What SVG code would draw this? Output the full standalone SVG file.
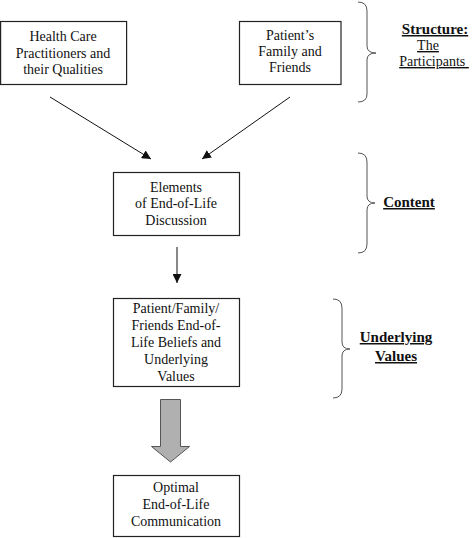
<svg xmlns="http://www.w3.org/2000/svg" width="472" height="538" viewBox="0 0 472 538">
<defs>
<style>
.box{fill:#fff;stroke:#222;stroke-width:1.2}
.t{font-family:"Liberation Serif","Times New Roman",serif;font-size:14px;fill:#111;text-anchor:middle}
.lab{font-family:"Liberation Serif","Times New Roman",serif;font-size:15px;font-weight:bold;fill:#111;text-anchor:middle;text-decoration:underline}
.sub{font-family:"Liberation Serif","Times New Roman",serif;font-size:14px;fill:#111;text-anchor:middle;text-decoration:underline}
.brace{fill:none;stroke:#555;stroke-width:1}
.conn{stroke:#111;stroke-width:1;fill:none}
</style>
<marker id="ah" viewBox="0 0 10 10" refX="10" refY="5" markerWidth="9" markerHeight="9" markerUnits="userSpaceOnUse" orient="auto">
<path d="M0,0 L10,5 L0,10 z" fill="#111"/>
</marker>
</defs>
<rect width="472" height="538" fill="#fff"/>
<g id="node-hcp">
<rect class="box" x="0.6" y="21.5" width="126" height="63"/>
<text class="t" x="63" y="41">Health Care</text>
<text class="t" x="63" y="58">Practitioners and</text>
<text class="t" x="63" y="74">their Qualities</text>
</g>
<g id="node-family">
<rect class="box" x="239.5" y="21.5" width="101.5" height="63"/>
<text class="t" x="290" y="40">Patient’s</text>
<text class="t" x="290" y="56">Family and</text>
<text class="t" x="290" y="72">Friends</text>
</g>
<g id="node-elements">
<rect class="box" x="113.5" y="172.5" width="126" height="63"/>
<text class="t" x="176" y="192">Elements</text>
<text class="t" x="176" y="208">of End-of-Life</text>
<text class="t" x="176" y="225">Discussion</text>
</g>
<g id="node-beliefs">
<rect class="box" x="113.5" y="298.5" width="126" height="88"/>
<text class="t" x="176" y="313">Patient/Family/</text>
<text class="t" x="176" y="330">Friends End-of-</text>
<text class="t" x="176" y="347">Life Beliefs and</text>
<text class="t" x="176" y="364">Underlying</text>
<text class="t" x="176" y="381">Values</text>
</g>
<g id="node-optimal">
<rect class="box" x="113.5" y="475.5" width="126" height="61"/>
<text class="t" x="176" y="492">Optimal</text>
<text class="t" x="176" y="509">End-of-Life</text>
<text class="t" x="176" y="526">Communication</text>
</g>
<g id="connectors">
<line class="conn" x1="50" y1="97" x2="151" y2="159" marker-end="url(#ah)"/>
<line class="conn" x1="290" y1="97" x2="202" y2="159" marker-end="url(#ah)"/>
<line class="conn" x1="177" y1="247" x2="177" y2="283" marker-end="url(#ah)"/>
<path d="M160.5,399.5 H180.5 V446.5 H189.5 L170.5,462 L151.5,446.5 H160.5 Z" fill="#b0b0b0" stroke="#555" stroke-width="1"/>
</g>
<g id="brace-structure">
<path class="brace" d="M358,2 Q367,2 367,11 V46 Q367,53 376,53 Q367,53 367,60 V94 Q367,102 358,102"/>
<text class="lab" x="435" y="34">Structure:</text>
<text class="sub" x="428" y="50">The</text>
<text class="sub" x="434" y="66" xml:space="preserve">Participants </text>
</g>
<g id="brace-content">
<path class="brace" d="M358,153 Q367,153 367,162 V196 Q367,203 375,203 Q367,203 367,210 V244 Q367,253 358,253"/>
<text class="lab" x="409" y="207">Content</text>
</g>
<g id="brace-values">
<path class="brace" d="M333,299 Q342,299 342,308 V342 Q342,349 350,349 Q342,349 342,356 V389 Q342,398 333,398"/>
<text class="lab" x="396" y="342">Underlying</text>
<text class="lab" x="396" y="361">Values</text>
</g>
</svg>
